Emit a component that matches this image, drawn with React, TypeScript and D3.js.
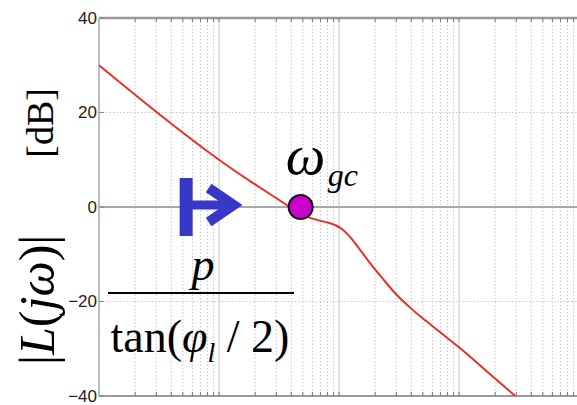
import React from "react";
import * as d3 from "d3";

// Open-loop gain |L(jω)| in dB versus angular frequency (log scale)
const freq = [1, 3.16, 10, 20, 38.9, 57.5, 83.2, 105, 132, 178, 234, 295, 380, 501, 1000, 1778, 2951];
const magDb = [30, 19.7, 10.0, 4.8, 0, -2.3, -3.4, -4.6, -7.2, -11.6, -15.3, -18.3, -21.0, -23.6, -29.7, -35.2, -40];

const yTicks = [40, 20, 0, -20, -40];
const yTickLabels = ["40", "20", "0", "\u221220", "\u221240"];

// gain-crossover frequency and the lower bound p / tan(φl/2)
const omegaGc = 47.9;
const lowerBound = 4.7;

const W = 577;
const H = 405;

export default function App() {
  const x = d3.scaleLog().domain([1, 1e4]).range([99, 579]);
  const y = d3.scaleLinear().domain([-40, 40]).range([396, 18]);

  const minor: number[] = [];
  const major: number[] = [];
  for (let dec = 1; dec < 1e4; dec *= 10) {
    if (dec > 1) major.push(dec);
    for (let k = 2; k <= 9; k++) minor.push(dec * k);
  }

  const line = d3
    .line<number>()
    .x((_, i) => x(freq[i]))
    .y((d) => y(d))
    .curve(d3.curveNatural);

  const left = x(1);
  const right = W + 4;
  const blue = "#3838c8";
  const ax = x(lowerBound);
  const cy0 = y(0) - 2;
  const serif = "'Liberation Serif', 'Times New Roman', serif";

  return (
    <svg width={W} height={H} style={{ position: "absolute", left: 0, top: 0, background: "#fff" }}>
      <defs>
        <clipPath id="plot">
          <rect x={left} y={y(40)} width={right - left} height={y(-40) - y(40)} />
        </clipPath>
      </defs>

      {/* vertical grid */}
      {minor.map((f) => (
        <line key={"m" + f} x1={x(f)} x2={x(f)} y1={y(40)} y2={y(-40)} stroke="#c4c4c4" strokeWidth={1} strokeDasharray="1.5,2" />
      ))}
      {major.map((f) => (
        <line key={"M" + f} x1={x(f)} x2={x(f)} y1={y(40)} y2={y(-40)} stroke="#cfcfcf" strokeWidth={1.2} />
      ))}
      {/* horizontal grid */}
      {[20, -20].map((v) => (
        <line key={"h" + v} x1={left} x2={right} y1={y(v)} y2={y(v)} stroke="#c8c8c8" strokeWidth={1} strokeDasharray="1.5,2" />
      ))}
      <line x1={left} x2={right} y1={y(0)} y2={y(0)} stroke="#a8a8a8" strokeWidth={2.2} />

      {/* axes frame */}
      <line x1={left} x2={right} y1={y(40)} y2={y(40)} stroke="#9a9a9a" strokeWidth={2.5} />
      <line x1={left} x2={right} y1={y(-40)} y2={y(-40)} stroke="#9a9a9a" strokeWidth={2} />
      <line x1={left} x2={left} y1={y(40)} y2={y(-40)} stroke="#bdbdbd" strokeWidth={2} />
      {[...minor, ...major].map((f) => (
        <g key={"t" + f}>
          <line x1={x(f)} x2={x(f)} y1={y(40)} y2={y(40) + 4} stroke="#777" strokeWidth={1} />
          <line x1={x(f)} x2={x(f)} y1={y(-40)} y2={y(-40) - 4} stroke="#777" strokeWidth={1} />
        </g>
      ))}
      {yTicks.map((v) => (
        <line key={"yt" + v} x1={left} x2={left + 5} y1={y(v)} y2={y(v)} stroke="#888" strokeWidth={1} />
      ))}

      {/* tick labels */}
      {yTicks.map((v, i) => (
        <text
          key={"yl" + v}
          x={97}
          y={y(v)}
          dy="0.35em"
          textAnchor="end"
          fontFamily="'Liberation Sans', Arial, sans-serif"
          fontSize={17}
          fill="#222"
        >
          {yTickLabels[i]}
        </text>
      ))}

      {/* gain curve */}
      <path d={line(magDb) || ""} fill="none" stroke="#e8302a" strokeWidth={2} clipPath="url(#plot)" />

      {/* arrow from the lower bound */}
      <rect x={ax} y={cy0 - 27} width={13} height={58} fill={blue} />
      <line x1={ax + 12} x2={ax + 50} y1={cy0} y2={cy0} stroke={blue} strokeWidth={9} />
      <polyline
        points={`${ax + 29},${cy0 - 17} ${ax + 54},${cy0} ${ax + 29},${cy0 + 17}`}
        fill="none"
        stroke={blue}
        strokeWidth={10}
        strokeLinejoin="miter"
      />

      {/* crossover marker */}
      <circle cx={x(omegaGc)} cy={y(0)} r={12} fill="#cc00cc" stroke="#111" strokeWidth={2} />
      <text x={x(omegaGc) - 15} y={174} fontFamily={serif} fontStyle="italic" fontSize={56} fill="#000">
        ω
      </text>
      <text x={x(omegaGc) + 27} y={186} fontFamily={serif} fontStyle="italic" fontSize={32} fill="#000">
        gc
      </text>

      {/* p / tan(φl / 2) */}
      <text x={203} y={280} textAnchor="middle" fontFamily={serif} fontStyle="italic" fontSize={46} fill="#000">
        p
      </text>
      <line x1={108} x2={294} y1={293} y2={293} stroke="#000" strokeWidth={2} />
      <text x={200} y={352} textAnchor="middle" fontFamily={serif} fontSize={46} fill="#000">
        tan(<tspan fontStyle="italic">φ</tspan>
        <tspan fontStyle="italic" fontSize={28} dy={10}>l</tspan>
        <tspan dy={-10}> / 2)</tspan>
      </text>

      {/* y-axis label */}
      <text transform="translate(54,365) rotate(-90)" fontFamily={serif} fontSize={50} fill="#000">
        |<tspan fontStyle="italic">L</tspan>(<tspan fontStyle="italic">jω</tspan>)|
      </text>
      <text transform="translate(53,88) rotate(-90)" textAnchor="end" fontFamily={serif} fontSize={38} fill="#000">
        [dB]
      </text>
    </svg>
  );
}
